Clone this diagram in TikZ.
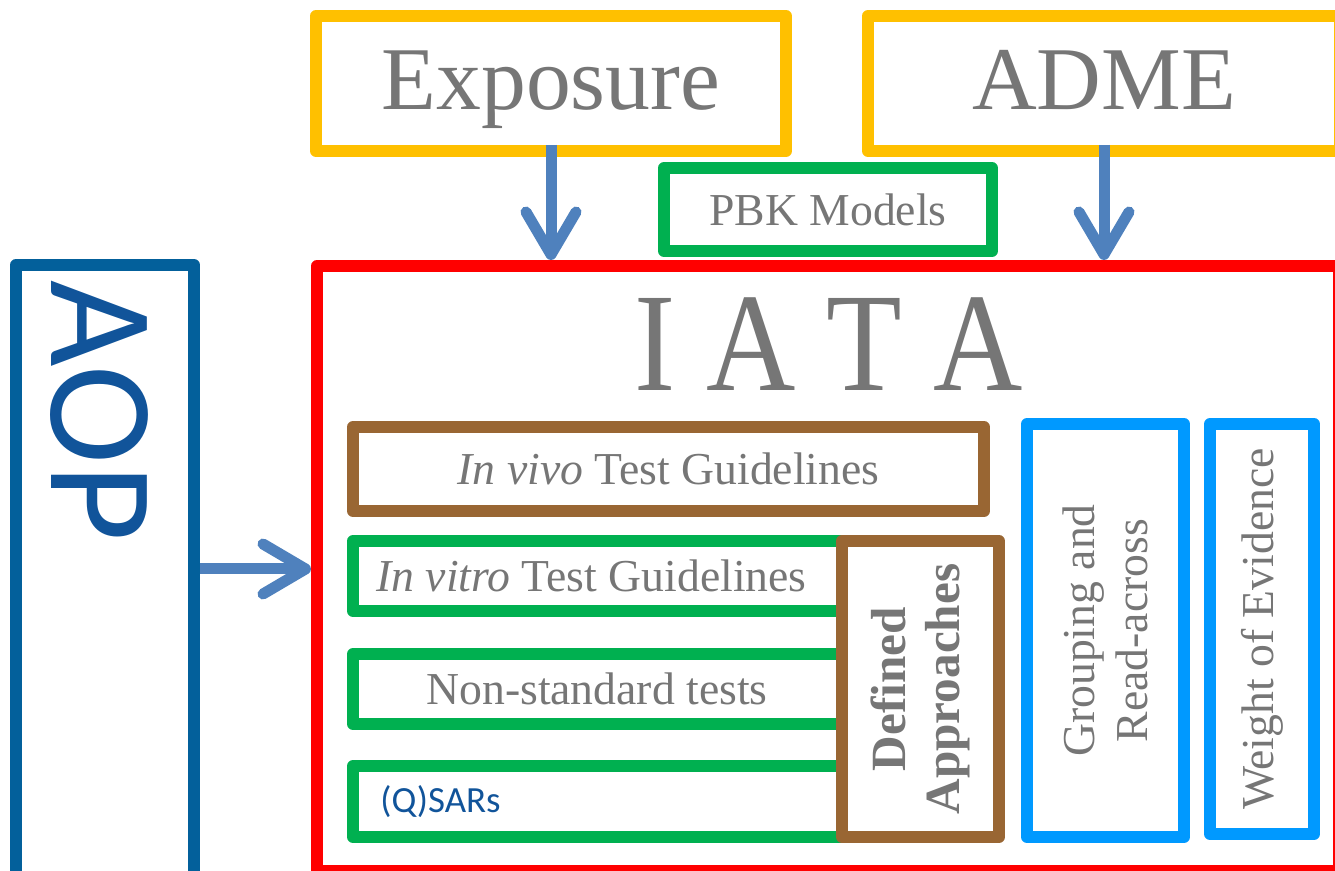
\documentclass[tikz,border=0pt]{standalone}
\usepackage{fontspec}
\setmainfont{Liberation Serif}
\setsansfont{Carlito}
\usetikzlibrary{arrows.meta}
\definecolor{textgray}{HTML}{767676}
\definecolor{inputyellow}{HTML}{FFC000}
\definecolor{methodgreen}{HTML}{00B050}
\definecolor{guidebrown}{HTML}{996633}
\definecolor{iatared}{HTML}{FF0000}
\definecolor{assessblue}{HTML}{0099FF}
\definecolor{aopblue}{HTML}{03609B}
\definecolor{aoptext}{HTML}{11549A}
\definecolor{flowblue}{HTML}{4F81BD}

\begin{document}
\begin{tikzpicture}[
    box/.style={draw, line width=0.24cm, line join=round, inner sep=0pt, align=center, text=textgray, font=\fontsize{26}{30}\selectfont},
    bigbox/.style={box, draw=inputyellow, minimum height=2.7cm, text height=1.2cm, text depth=0.14cm, font=\fontsize{51}{56}\selectfont},
    label/.style={inner sep=0pt, text=textgray, font=\fontsize{26}{30}\selectfont},
    flow/.style={-{Straight Barb[length=0.85cm, width=1cm, round]}, line width=0.22cm, draw=flowblue}
]
    \useasboundingbox (0,0) rectangle (26.7,-17.42);

    \node[bigbox, minimum width=9.4cm] (exposure) at (11.02,-1.67) {Exposure};
    \node[bigbox, minimum width=9.44cm] (adme) at (22.08,-1.67) {ADME};
    \node[box, draw=methodgreen, minimum width=6.56cm, minimum height=1.66cm] (pbk) at (16.56,-4.19) {PBK Models};

    \node[box, draw=iatared, minimum width=20.44cm, minimum height=12.1cm] (iata) at (16.56,-11.37) {};
    \node[label, anchor=base, xscale=0.88, font=\fontsize{80}{90}\selectfont] (iatatext) at (16.57,-7.82) {I A T A};

    \node[box, draw=aopblue, minimum width=3.56cm, minimum height=12.24cm] (aop) at (2.1,-11.42) {};
    \node[label, anchor=base west, rotate=-90, text=aoptext, font=\sffamily\fontsize{85}{90}\selectfont] (aoptext) at (1.04,-5.6) {AOP};

    \node[box, draw=guidebrown, minimum width=12.62cm, minimum height=1.68cm] (invivo) at (13.37,-9.38) {\textit{In vivo} Test Guidelines};
    \node[box, draw=methodgreen, minimum width=12.62cm, minimum height=1.4cm] (invitro) at (13.37,-11.52) {};
    \node[box, draw=methodgreen, minimum width=12.62cm, minimum height=1.4cm] (nonstd) at (13.37,-13.78) {};
    \node[box, draw=methodgreen, minimum width=12.62cm, minimum height=1.42cm] (qsar) at (13.37,-16.03) {};
    \node[label] (invitrotext) at (11.83,-11.52) {\textit{In vitro} Test Guidelines};
    \node[label] (nonstdtext) at (11.94,-13.78) {Non-standard tests};
    \node[label, anchor=west, text=aoptext, font=\sffamily\fontsize{21}{24}\selectfont] (qsartext) at (7.6,-16.04) {(Q)SARs};

    \node[box, draw=guidebrown, fill=white, minimum width=3.14cm, minimum height=5.92cm] (defined) at (18.41,-13.78) {};
    \node[label, rotate=90, align=center, font=\bfseries\fontsize{28}{31}\selectfont] (definedtext) at (defined) {Defined\\Approaches};

    \node[box, draw=assessblue, minimum width=3.14cm, minimum height=8.26cm] (grouping) at (22.11,-12.61) {};
    \node[label, rotate=90, align=center] (groupingtext) at (grouping) {Grouping and\\Read-across};
    \node[box, draw=assessblue, minimum width=2.08cm, minimum height=8.2cm] (woe) at (25.24,-12.58) {};
    \node[label, rotate=90] (woetext) at (woe) {Weight of Evidence};

    \draw[flow] ([yshift=0.24cm]exposure.south) -- (exposure.south |- iata.north);
    \draw[flow] ([yshift=0.24cm]adme.south) -- (adme.south |- iata.north);
    \draw[flow] (aop.east |- 0,-11.38) -- (iata.west |- 0,-11.38);
\end{tikzpicture}
\end{document}
